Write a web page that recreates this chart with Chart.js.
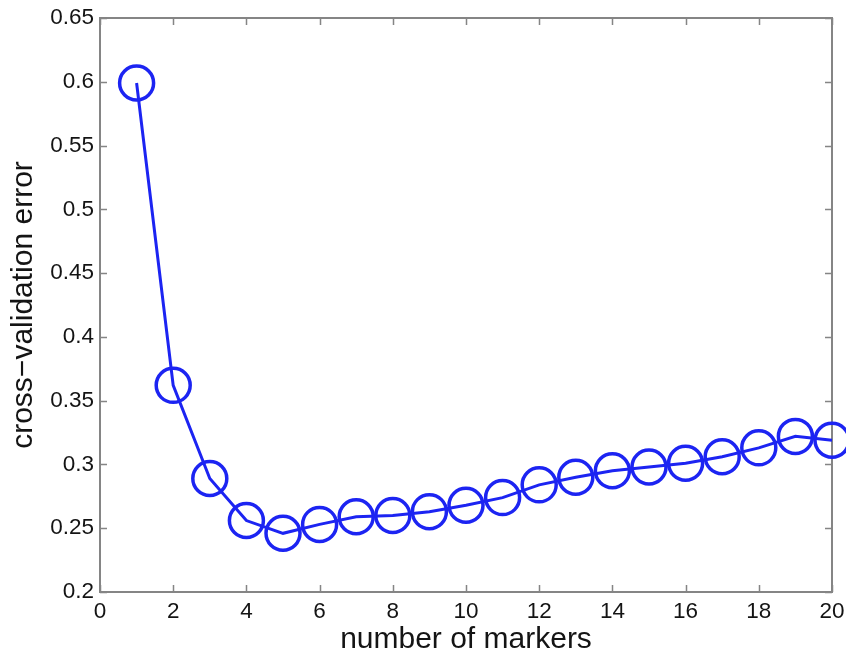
<!DOCTYPE html>
<html>
<head>
<meta charset="utf-8">
<script src="https://cdn.jsdelivr.net/npm/chart.js@4"></script>
<style>
  html, body { margin: 0; padding: 0; background: #fff; }
  #wrap { width: 846px; height: 655px; }
</style>
</head>
<body>
<div id="wrap"><canvas id="c" width="846" height="655"></canvas></div>
<script>
const markers = [1,2,3,4,5,6,7,8,9,10,11,12,13,14,15,16,17,18,19,20];
const cvError = [0.599,0.362,0.289,0.256,0.246,0.253,0.259,0.260,0.263,0.268,0.274,0.284,0.290,0.295,0.298,0.301,0.306,0.313,0.322,0.319];
const xTicks = [0,2,4,6,8,10,12,14,16,18,20];
const yTicks = [0.2,0.25,0.3,0.35,0.4,0.45,0.5,0.55,0.6,0.65];
const xTitle = 'number of markers';
const yTitle = 'cross\u2212validation error';

const AXIS_COLOR = '#858585';
const TEXT_COLOR = '#141414';
const BLUE = 'rgb(28,36,242)';
const FONT = '"Liberation Sans", Arial, sans-serif';

const boxPlugin = {
  id: 'matlabBox',
  beforeDatasetsDraw(chart) {
    const {ctx, chartArea: a, scales: {x, y}} = chart;
    ctx.save();
    ctx.strokeStyle = AXIS_COLOR;
    ctx.lineWidth = 2;
    ctx.strokeRect(a.left, a.top, a.right - a.left, a.bottom - a.top);
    const tl = 7;
    ctx.beginPath();
    xTicks.forEach(v => {
      const px = Math.round(x.getPixelForValue(v)) + 0.5;
      ctx.moveTo(px, a.bottom); ctx.lineTo(px, a.bottom - tl);
      ctx.moveTo(px, a.top); ctx.lineTo(px, a.top + tl);
    });
    yTicks.forEach(v => {
      const py = Math.round(y.getPixelForValue(v)) + 0.5;
      ctx.moveTo(a.left, py); ctx.lineTo(a.left + tl, py);
      ctx.moveTo(a.right, py); ctx.lineTo(a.right - tl, py);
    });
    ctx.lineWidth = 1.5;
    ctx.stroke();
    ctx.restore();
  }
};

new Chart(document.getElementById('c'), {
  type: 'line',
  data: {
    datasets: [{
      data: markers.map((m, i) => ({x: m, y: cvError[i]})),
      borderColor: BLUE,
      borderWidth: 3,
      pointRadius: 17,
      pointBorderWidth: 3.5,
      pointBorderColor: BLUE,
      pointBackgroundColor: 'rgba(0,0,0,0)',
      pointHoverRadius: 17,
      tension: 0,
      clip: false,
      fill: false
    }]
  },
  options: {
    responsive: false,
    animation: false,
    events: [],
    layout: { autoPadding: false, padding: { top: 18, right: 14, left: 0, bottom: 0 } },
    plugins: { legend: { display: false }, tooltip: { enabled: false } },
    scales: {
      x: {
        type: 'linear',
        min: 0, max: 20,
        afterBuildTicks: s => { s.ticks = xTicks.map(v => ({value: v})); },
        afterFit: s => { s.height = 63; s.paddingLeft = 0; s.paddingRight = 0; },
        grid: { display: false, drawTicks: false },
        border: { display: false },
        ticks: {
          color: TEXT_COLOR, padding: 6, maxRotation: 0, autoSkip: false,
          font: { family: FONT, size: 22.5 },
          callback: v => String(v)
        },
        title: {
          display: true, text: xTitle, color: TEXT_COLOR,
          font: { family: FONT, size: 30, lineHeight: 1 },
          padding: { top: 0, bottom: 0.5 }
        }
      },
      y: {
        type: 'linear',
        min: 0.2, max: 0.65,
        afterBuildTicks: s => { s.ticks = yTicks.map(v => ({value: v})); },
        afterFit: s => { s.width = 100; s.paddingTop = 0; s.paddingBottom = 0; },
        grid: { display: false, drawTicks: false },
        border: { display: false },
        ticks: {
          color: TEXT_COLOR, padding: 6, autoSkip: false,
          font: { family: FONT, size: 22.5 },
          callback: v => String(+v.toFixed(2))
        },
        title: {
          display: true, text: yTitle, color: TEXT_COLOR,
          font: { family: FONT, size: 30, lineHeight: 1 },
          padding: { top: 8.5, bottom: 0 }
        }
      }
    }
  },
  plugins: [boxPlugin]
});
</script>
</body>
</html>
